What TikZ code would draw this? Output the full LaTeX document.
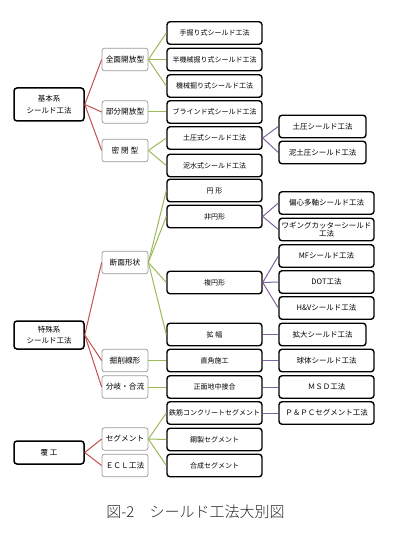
\documentclass[tikz,border=0pt]{standalone}
\usepackage{fontspec}
\setmainfont{Noto Sans CJK JP}
\newfontfamily\capfont{Noto Sans CJK JP Light}
\begin{document}
\begin{tikzpicture}[x=1pt,y=-1pt,
  every node/.style={inner sep=0pt,font=\fontsize{7}{9}\selectfont,align=center},
  lvzero/.style={draw=black,line width=1.5pt,rounded corners=3pt,minimum width=70pt,font=\fontsize{7.5}{9.5}\selectfont},
  lvone/.style={draw=gray!80,line width=0.7pt,rounded corners=2.5pt,minimum width=46pt,minimum height=22.5pt,font=\fontsize{7.7}{9}\selectfont},
  lvtwo/.style={draw=black,line width=1.4pt,rounded corners=3pt,minimum width=95pt,minimum height=22.5pt,font=\fontsize{7}{9}\selectfont},
  lvthree/.style={draw=black,line width=1.4pt,rounded corners=3pt,minimum width=95pt,minimum height=22.5pt,font=\fontsize{7.5}{9}\selectfont},
  lvthreeS/.style={lvthree,minimum width=87pt},
  redl/.style={draw={rgb,255:red,192;green,80;blue,77},line width=1pt},
  greenl/.style={draw={rgb,255:red,155;green,187;blue,89},line width=1pt},
  purpl/.style={draw={rgb,255:red,128;green,100;blue,162},line width=1pt}
]
\useasboundingbox (0,0) rectangle (409,534);
% level 0
\node[lvzero,minimum height=33pt] (a0) at (49,104.5) {基本系\\[2pt]シールド工法};
\node[lvzero,minimum height=28pt] (b0) at (49,335) {特殊系\\[2pt]シールド工法};
\node[lvzero,minimum height=23pt] (c0) at (49,452.5) {覆 工};
% level 1
\node[lvone] (a1) at (125,59.5) {全面開放型};
\node[lvone] (a2) at (125,112) {部分開放型};
\node[lvone] (a3) at (125,150.5) {密 閉 型};
\node[lvone] (b1) at (125,262.5) {断面形状};
\node[lvone] (b2) at (125,360.5) {掘削線形};
\node[lvone] (b3) at (125,387) {分岐・合流};
\node[lvone] (c1) at (125,439) {セグメント};
\node[lvone] (c2) at (125,465.5) {ＥＣＬ工法};
% level 2
\node[lvtwo] (p1) at (214.5,33) {手掘り式シールド工法};
\node[lvtwo] (p2) at (214.5,59.5) {半機械掘り式シールド工法};
\node[lvtwo] (p3) at (214.5,86) {機械掘り式シールド工法};
\node[lvtwo] (p4) at (214.5,112) {ブラインド式シールド工法};
\node[lvtwo] (p5) at (214.5,138) {土圧式シールド工法};
\node[lvtwo] (p6) at (214.5,165.5) {泥水式シールド工法};
\node[lvtwo] (q1) at (214.5,190.5) {円 形};
\node[lvtwo] (q2) at (214.5,216.5) {非円形};
\node[lvtwo] (q3) at (214.5,282.5) {複円形};
\node[lvtwo] (q4) at (214.5,334.5) {拡 幅};
\node[lvtwo] (q5) at (214.5,360.5) {直角施工};
\node[lvtwo] (q6) at (214.5,387) {正面地中接合};
\node[lvtwo] (r1) at (214.5,413) {鉄筋コンクリートセグメント};
\node[lvtwo] (r2) at (214.5,439.5) {鋼製セグメント};
\node[lvtwo] (r3) at (214.5,465.5) {合成セグメント};
% level 3
\node[lvthreeS] (s1) at (322.5,126.5) {土圧シールド工法};
\node[lvthreeS] (s2) at (322.5,152.5) {泥土圧シールド工法};
\node[lvthree] (t1) at (326.5,203) {偏心多軸シールド工法};
\node[lvthree,font=\fontsize{7.5}{8}\selectfont] (t2) at (326.5,229.5) {ワギングカッターシールド\\工法};
\node[lvthree] (t3) at (326.5,256) {MFシールド工法};
\node[lvthree] (t4) at (326.5,282) {DOT工法};
\node[lvthree] (t5) at (326.5,308) {H\&Vシールド工法};
\node[lvthreeS] (t6) at (322.5,334.5) {拡大シールド工法};
\node[lvthree] (t7) at (326.5,360.5) {球体シールド工法};
\node[lvthree] (t8) at (326.5,387) {ＭＳＤ工法};
\node[lvthree] (t9) at (326.5,413) {Ｐ＆ＰＣセグメント工法};
% caption
\node[font=\capfont\fontsize{15}{17}\selectfont,text=black!85] (cap) at (195.5,512) {図-2　シールド工法大別図};
% connectors level0 -> level1
\foreach \c in {a1,a2,a3} \draw[redl] (a0.east) -- (\c.west);
\foreach \c in {b1,b2,b3} \draw[redl] (b0.east) -- (\c.west);
\foreach \c in {c1,c2} \draw[redl] (c0.east) -- (\c.west);
% level1 -> level2
\foreach \c in {p1,p2,p3} \draw[greenl] (a1.east) -- (\c.west);
\draw[greenl] (a2.east) -- (p4.west);
\foreach \c in {p5,p6} \draw[greenl] (a3.east) -- (\c.west);
\foreach \c in {q1,q2,q3,q4} \draw[greenl] (b1.east) -- (\c.west);
\draw[greenl] (b2.east) -- (q5.west);
\draw[greenl] (b3.east) -- (q6.west);
\foreach \c in {r1,r2,r3} \draw[greenl] (c1.east) -- (\c.west);
% level2 -> level3
\foreach \c in {s1,s2} \draw[purpl] (p5.east) -- (\c.west);
\foreach \c in {t1,t2} \draw[purpl] (q2.east) -- (\c.west);
\foreach \c in {t3,t4,t5} \draw[purpl] (q3.east) -- (\c.west);
\draw[purpl] (q4.east) -- (t6.west);
\draw[purpl] (q5.east) -- (t7.west);
\draw[purpl] (q6.east) -- (t8.west);
\draw[purpl] (r1.east) -- (t9.west);
\end{tikzpicture}
\end{document}
